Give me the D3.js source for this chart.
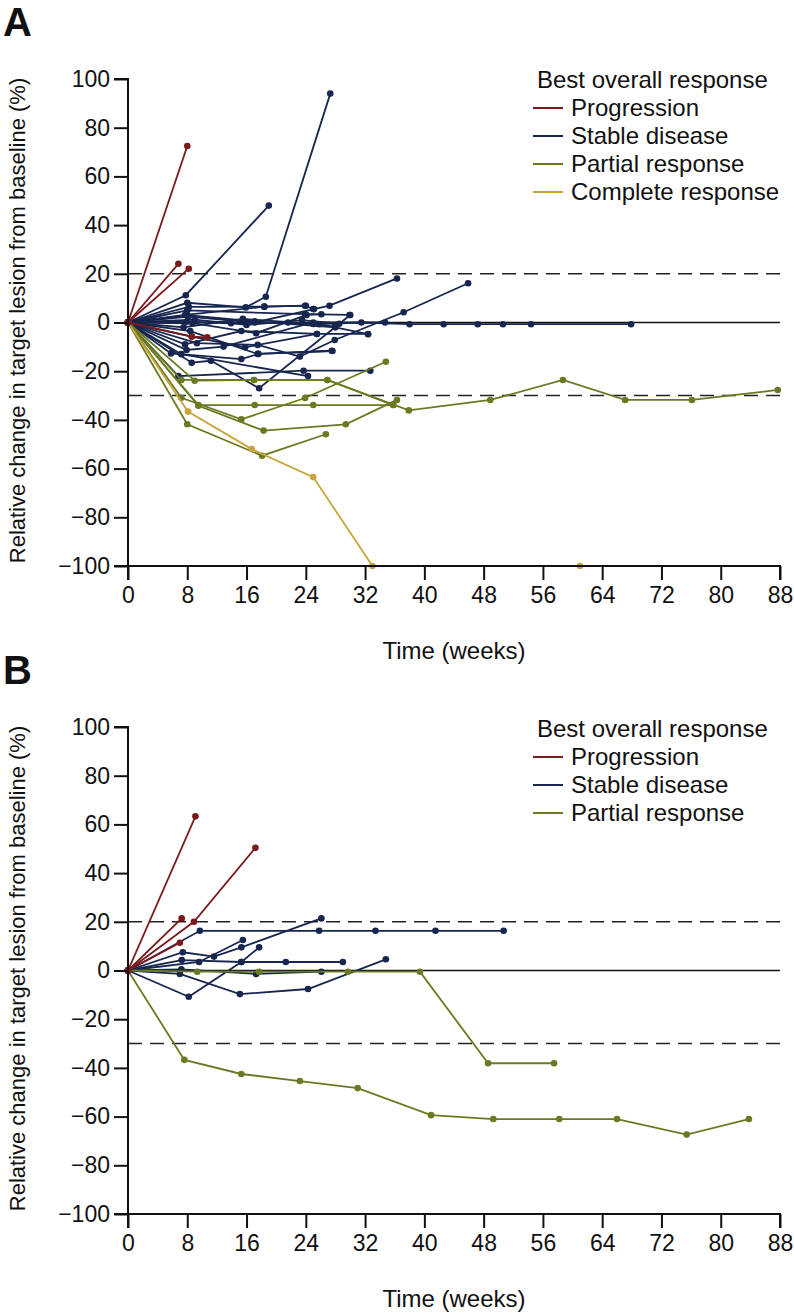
<!DOCTYPE html>
<html><head><meta charset="utf-8">
<script src="https://cdn.jsdelivr.net/npm/d3@7"></script>
<style>body{margin:0;background:#fff}svg{display:block;font-family:"Liberation Sans",Arial,sans-serif}</style>
</head><body><svg id="c" width="794" height="1314"></svg>
<script>
// ---------- DATA ----------
const xTicks = [0,8,16,24,32,40,48,56,64,72,80,88];
const yTicks = [100,80,60,40,20,0,-20,-40,-60,-80,-100];
const refLines = [20,-30];
const categoriesA = ["Progression","Stable disease","Partial response","Complete response"];
const categoriesB = ["Progression","Stable disease","Partial response"];
const colors = {"Progression":"#7a1a1c","Stable disease":"#17264f","Partial response":"#6b7a22","Complete response":"#c9a43c"};

// Panel A: each patient = list of [week, % change]
const A_progression = [
  [[0,0],[8.0,72.5]],
  [[0,0],[6.8,24.1]],
  [[0,0],[8.2,22.1]],
  [[0,0],[8.6,-5.8],[10.7,-6.1]]
];
const A_stable = [
  [[0,0],[7.8,11.2],[19.0,48.0]],
  [[0,0],[8.0,8.1],[15.9,6.2],[18.6,10.6],[27.3,94.0]],
  [[0,0],[7.7,3.1],[18.4,6.5],[24.0,6.9]],
  [[0,0],[8.1,2.4],[17.1,0.0],[25.1,5.5],[27.2,6.9],[36.3,18.1]],
  [[0,0],[7.9,0.3],[13.9,-0.3],[21.6,0.0],[25.8,-0.7],[31.5,0.0],[38.0,-0.7],[42.6,-0.7],[47.2,-0.7],[50.6,-0.7],[54.4,-0.7],[67.9,-0.7]],
  [[0,0],[8.7,-0.3],[17.3,-4.4],[24.1,3.1],[26.1,3.4]],
  [[0,0],[8.6,-5.8],[15.8,-10.2],[25.5,-4.7],[32.4,-4.7]],
  [[0,0],[9.3,-8.5],[17.5,-9.2],[23.2,-14.0],[27.9,-7.2],[37.2,4.2],[45.9,16.1]],
  [[0,0],[7.9,-11.3],[12.9,-9.9],[25.0,0.0],[34.7,0.0]],
  [[0,0],[5.8,-12.7],[15.3,-15.0],[17.6,-12.9],[27.5,-11.6]],
  [[0,0],[8.6,-16.5],[11.2,-15.7],[17.7,-27.0],[30.0,3.1]],
  [[0,0],[6.8,-22.0],[23.7,-19.8],[32.7,-19.8]],
  [[0,0],[7.2,-13.0],[24.3,-22.0]],
  [[0,0],[8.0,3.0],[17.1,0.5],[28.0,-2.0],[32.4,-4.8]],
  [[0,0],[8.0,5.0],[23.9,3.4],[29.9,3.1]],
  [[0,0],[7.5,-2.0],[15.5,1.5],[25.0,-0.6],[27.9,-1.7]],
  [[0,0],[8.4,-3.5],[17.5,-12.9],[27.6,-11.7]],
  [[0,0],[7.7,-9.0],[15.3,-3.5],[25.5,-4.7]],
  [[0,0],[9.0,1.2],[16.0,-1.0],[23.5,1.0],[28.5,-0.5]],
  [[0,0],[8.2,6.4],[18.4,6.5],[23.9,6.9],[25.0,5.5]]
];
const A_partial = [
  [[0,0],[7.2,-23.6],[17.0,-23.6],[26.9,-23.6],[37.9,-36.1],[48.9,-31.8],[58.7,-23.6],[67.1,-31.8],[76.1,-31.8],[87.7,-27.7]],
  [[0,0],[9.0,-23.9],[17.0,-23.6],[26.9,-23.6],[35.8,-33.9]],
  [[0,0],[7.2,-30.9],[15.3,-39.8],[23.9,-31.0],[34.8,-16.1]],
  [[0,0],[9.5,-33.9],[17.1,-33.9],[25.0,-33.9],[35.8,-33.9]],
  [[0,0],[9.5,-34.2],[18.3,-44.4],[29.4,-41.8],[36.3,-31.8]],
  [[0,0],[8.0,-41.8],[18.1,-54.7],[26.7,-45.9]]
];
const A_complete = [
  [[0,0],[8.1,-36.6],[16.7,-52.0],[25.0,-63.5],[33.0,-100],[61.0,-100]]
];

// Panel B
const B_progression = [
  [[0,0],[9.1,63.3]],
  [[0,0],[8.9,20.0],[17.2,50.4]],
  [[0,0],[7.25,21.4]],
  [[0,0],[7.0,11.4]]
];
const B_stable = [
  [[0,0],[9.7,16.3],[25.8,16.3],[33.4,16.3],[41.5,16.3],[50.7,16.3]],
  [[0,0],[7.4,7.5],[11.6,5.7],[15.3,9.5],[26.1,21.4]],
  [[0,0],[9.6,3.5],[15.5,12.5]],
  [[0,0],[7.25,4.3],[15.3,3.5],[21.3,3.5],[29.0,3.5]],
  [[0,0],[8.2,-10.8],[15.3,3.5],[17.7,9.5]],
  [[0,0],[7.0,-1.4],[15.1,-9.7],[24.3,-7.6],[34.8,4.6]],
  [[0,0],[7.2,0.5],[17.3,-1.4],[26.1,-0.5]]
];
const B_partial = [
  [[0,0],[9.35,-0.5],[17.7,-0.5],[29.7,-0.5],[39.4,-0.5],[48.6,-38.1],[57.5,-38.1]],
  [[0,0],[7.6,-36.7],[15.3,-42.5],[23.2,-45.4],[31.0,-48.3],[40.9,-59.4],[49.3,-61.0],[58.2,-61.0],[66.0,-61.0],[75.4,-67.4],[83.8,-61.0]]
];

// ---------- DRAW ----------
const svg = d3.select("#c");
const X0 = 128, X1 = 780;

function panel(letter, top, bottom, groups, legendCats, legendTop){
  const x = d3.scaleLinear().domain([0,88]).range([X0,X1]);
  const y = d3.scaleLinear().domain([-100,100]).range([bottom,top]);
  const g = svg.append("g");

  g.append("line").attr("x1",x(0)).attr("x2",x(88)).attr("y1",y(0)).attr("y2",y(0))
    .attr("stroke","#111").attr("stroke-width",1.6);
  refLines.forEach(v=>{
    g.append("line").attr("x1",x(0)).attr("x2",x(88)).attr("y1",y(v)).attr("y2",y(v))
      .attr("stroke","#222").attr("stroke-width",1.6).attr("stroke-dasharray","14,8");
  });

  const line = d3.line().x(d=>x(d[0])).y(d=>y(d[1]));
  groups.forEach(([cat, series])=>{
    series.forEach(s=>{
      g.append("path").attr("d",line(s)).attr("fill","none")
        .attr("stroke",colors[cat]).attr("stroke-width",1.8);
      g.selectAll(null).data(s).enter().append("circle")
        .attr("cx",d=>x(d[0])).attr("cy",d=>y(d[1])).attr("r",3.3)
        .attr("fill",colors[cat]);
    });
  });

  const ya = g.append("g").attr("transform",`translate(${X0},0)`)
    .call(d3.axisLeft(y).tickValues(yTicks).tickSize(14).tickPadding(4)
      .tickFormat(d=> d<0 ? "\u2212"+Math.abs(d) : d));
  const xa = g.append("g").attr("transform",`translate(0,${bottom})`)
    .call(d3.axisBottom(x).tickValues(xTicks).tickSize(14).tickPadding(7));
  [ya,xa].forEach(a=>{
    a.select(".domain").attr("stroke","#111").attr("stroke-width",2);
    a.selectAll(".tick line").attr("stroke","#111").attr("stroke-width",2);
    a.selectAll("text").attr("font-size",23).attr("fill","#111")
      .attr("font-family","Liberation Sans, Arial, sans-serif");
  });
  ya.select(".domain").attr("d",`M-14,${top}H0V${bottom}H-14`);
  xa.select(".domain").attr("d",`M${X0},14V0H${X1}V14`);

  g.append("text").attr("x",454).attr("y",bottom+93).attr("text-anchor","middle")
    .attr("font-size",24).attr("fill","#111").text("Time (weeks)");
  g.append("text").attr("transform",`translate(25,${(top+bottom)/2 - 2}) rotate(-90)`)
    .attr("text-anchor","middle").attr("font-size",22).attr("fill","#111")
    .text("Relative change in target lesion from baseline (%)");
  g.append("text").attr("x",3).attr("y",top-43).attr("font-size",40).attr("font-weight","bold")
    .attr("fill","#111").text(letter);

  const lg = g.append("g");
  lg.append("text").attr("x",537).attr("y",legendTop).attr("font-size",24).attr("fill","#111")
    .text("Best overall response");
  legendCats.forEach((c,i)=>{
    const yy = legendTop + 28*(i+1) - 8;
    lg.append("line").attr("x1",533).attr("x2",563).attr("y1",yy).attr("y2",yy)
      .attr("stroke",colors[c]).attr("stroke-width",2);
    lg.append("text").attr("x",571).attr("y",yy+8).attr("font-size",24).attr("fill","#111").text(c);
  });
}

panel("A", 79, 566,
  [["Stable disease",A_stable],["Partial response",A_partial],["Complete response",A_complete],["Progression",A_progression]],
  categoriesA, 88);
panel("B", 727, 1214,
  [["Stable disease",B_stable],["Partial response",B_partial],["Progression",B_progression]],
  categoriesB, 737);
</script></body></html>
